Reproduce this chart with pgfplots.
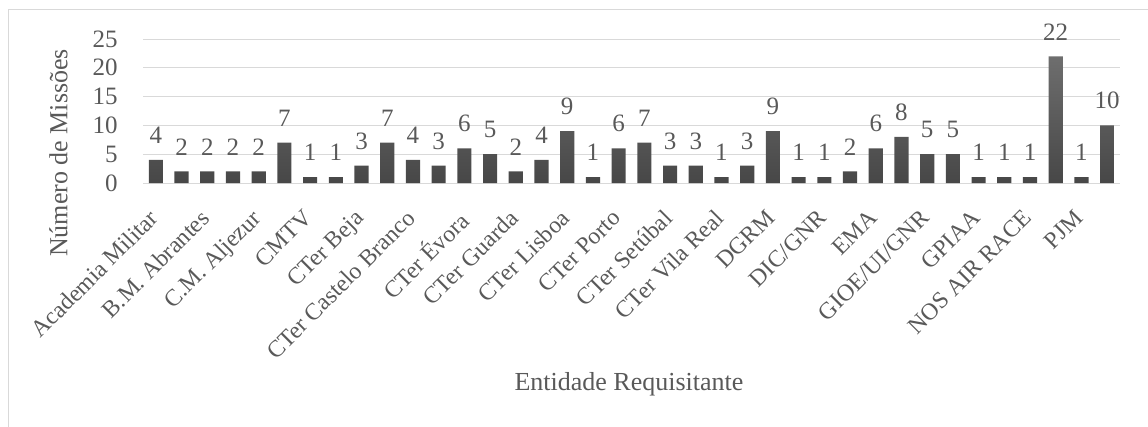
\documentclass[border=0pt]{standalone}
\usepackage{pgfplots}
\pgfplotsset{compat=1.18}
\usepackage{fontspec}
\setmainfont{Liberation Serif}
\definecolor{txt}{HTML}{595959}
\definecolor{gridc}{HTML}{D9D9D9}
\definecolor{bartop}{HTML}{6E6E6E}
\definecolor{barbot}{HTML}{474747}
\begin{document}
\begin{tikzpicture}
\useasboundingbox (0,0) rectangle (861pt,319.5pt);
\draw[gridc, line width=0.75pt] (6pt,-5pt) -- (6pt,312pt) -- (870pt,312pt);
\begin{axis}[
  at={(107.25pt,182.25pt)}, anchor=south west,
  scale only axis, width=732.75pt, height=108pt,
  xmin=-0.5, xmax=37.5, ymin=0, ymax=25,
  ytick={0,5,...,25},
  xtick={0,2,...,36},
  xticklabels={Academia Militar, B.M. Abrantes, C.M. Aljezur, CMTV, CTer Beja, CTer Castelo Branco, CTer Évora, CTer Guarda, CTer Lisboa, CTer Porto, CTer Setúbal, CTer Vila Real, DGRM, DIC/GNR, EMA, GIOE/UI/GNR, GPIAA, NOS AIR RACE, PJM},
  /pgf/number format/assume math mode=true,
  ybar, bar width=0.55,
  axis line style={draw=none},
  major tick style={draw=none},
  ymajorgrids, grid style={gridc, line width=0.75pt},
  tick label style={text=txt},
  yticklabel style={font=\fontsize{18.75}{18.75}\selectfont, inner sep=0pt, xshift=-18.75pt},
  xticklabel style={font=\fontsize{17.8}{17.8}\selectfont, inner sep=0pt, yshift=-14.5pt, xshift=-6pt, rotate=45, anchor=north east},
  nodes near coords,
  nodes near coords style={font=\fontsize{18.75}{18.75}\selectfont, text=txt, inner sep=0pt, yshift=12pt},
  clip=false,
]
\addplot[draw=none, top color=bartop, bottom color=barbot] coordinates {
(0,4) (1,2) (2,2) (3,2) (4,2) (5,7) (6,1) (7,1) (8,3) (9,7)
(10,4) (11,3) (12,6) (13,5) (14,2) (15,4) (16,9) (17,1) (18,6) (19,7)
(20,3) (21,3) (22,1) (23,3) (24,9) (25,1) (26,1) (27,2) (28,6) (29,8)
(30,5) (31,5) (32,1) (33,1) (34,1) (35,22) (36,1) (37,10)};
\end{axis}
\node[rotate=90, anchor=base, text=txt, font=\fontsize{19.5}{19.5}\selectfont] at (50.5pt,204.75pt) {Número de Missões};
\node[anchor=base, text=txt, font=\fontsize{19.5}{19.5}\selectfont] at (471.75pt,27pt) {Entidade Requisitante};
\end{tikzpicture}
\end{document}
